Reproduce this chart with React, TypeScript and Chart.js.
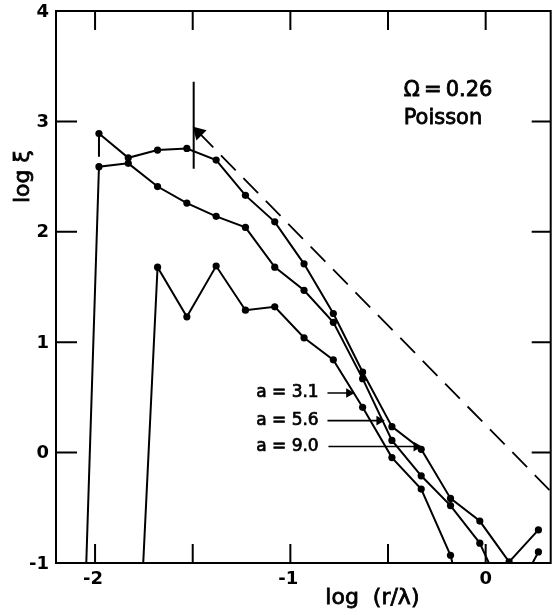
import { useEffect, useRef } from 'react';
import { Chart, registerables } from 'chart.js';

Chart.register(...registerables);

// log (r/lambda) sample positions
const xLog = [-2.13, -1.98, -1.83, -1.68, -1.53, -1.38, -1.23, -1.08, -0.93, -0.78, -0.63, -0.48, -0.33, -0.18, -0.03, 0.12, 0.27];
// log xi for each a
const xiA90 = [null, 2.89, 2.67, 2.74, 2.755, 2.65, 2.33, 2.09, 1.71, 1.26, 0.73, 0.235, 0.03, -0.415, -0.62, -0.99, -0.70];
const xiA56 = [-5.7, 2.59, 2.62, 2.41, 2.26, 2.14, 2.04, 1.68, 1.47, 1.18, 0.67, 0.11, -0.21, -0.48, -0.82, -1.4, -0.90];
const xiA31 = [null, null, -3.8, 1.68, 1.23, 1.69, 1.29, 1.32, 1.04, 0.84, 0.41, -0.045, -0.33, -0.93, -2.0, null, null];

const xTicks = [-2, -1.5, -1, -0.5, 0];
const yTicks = [-1, 0, 1, 2, 3, 4];

// slope -1.8 reference line (dashed, arrow at upper end)
const refLineX = [-1.47, 0.333];
const refLineY = [2.9, -0.35];
// vertical marker at log r = -1.5
const markX = [-1.495, -1.495];
const markY = [2.57, 3.36];
// short vertical stub under first point
const stubX = [-1.98, -1.98];
const stubY = [2.89, 2.68];

const arrowLabels = ['a = 3.1', 'a = 5.6', 'a = 9.0'];
const arrowStartX = [-0.81, -0.81, -0.805];
const arrowEndX = [-0.70, -0.545, -0.355];
const arrowY = [0.54, 0.29, 0.055];

const toPts = (xs: number[], ys: (number | null)[]) =>
  xs.map((x, i) => ({ x, y: ys[i] })).filter((p) => p.y !== null) as { x: number; y: number }[];

const seriesStyle = {
  borderColor: '#000',
  backgroundColor: '#000',
  borderWidth: 2,
  pointRadius: 3.6,
  pointBackgroundColor: '#000',
  pointBorderColor: '#000',
  pointBorderWidth: 0,
  tension: 0,
};

const TICK_FONT = 'bold 18px "DejaVu Sans"';

// heavier text: fill plus a thin stroke
const heavyText = (ctx: any, t: string, x: number, y: number, w = 0.8) => {
  ctx.fillText(t, x, y);
  ctx.lineWidth = w;
  ctx.strokeText(t, x, y);
};

const framePlugin = {
  id: 'framePlugin',
  afterDraw(chart: any) {
    const { ctx, chartArea: ca, scales } = chart;
    const sx = scales.x;
    const sy = scales.y;
    ctx.save();
    ctx.strokeStyle = '#000';
    ctx.fillStyle = '#000';
    ctx.lineWidth = 2;
    ctx.strokeRect(ca.left, ca.top, ca.right - ca.left, ca.bottom - ca.top);
    const tl = 19;
    ctx.beginPath();
    xTicks.forEach((v) => {
      const px = sx.getPixelForValue(v);
      ctx.moveTo(px, ca.top);
      ctx.lineTo(px, ca.top + tl);
      ctx.moveTo(px, ca.bottom);
      ctx.lineTo(px, ca.bottom - tl);
    });
    yTicks.forEach((v) => {
      const py = sy.getPixelForValue(v);
      ctx.moveTo(ca.left, py);
      ctx.lineTo(ca.left + tl + 2, py);
      ctx.moveTo(ca.right, py);
      ctx.lineTo(ca.right - tl, py);
    });
    ctx.stroke();

    // tick labels, placed from the library scales' own ticks
    ctx.font = TICK_FONT;
    ctx.textBaseline = 'middle';
    ctx.textAlign = 'right';
    sy.ticks.forEach((t: any) => {
      ctx.fillText(String(t.value), ca.left - 7, sy.getPixelForValue(t.value) + 1);
    });
    ctx.textAlign = 'center';
    sx.ticks.forEach((t: any) => {
      if (Number.isInteger(t.value)) {
        const off = t.value < 0 ? -2 : 0;
        ctx.fillText(String(t.value), sx.getPixelForValue(t.value) + off, ca.bottom + 16);
      }
    });

    // annotations
    ctx.font = '21px "DejaVu Sans"';
    ctx.textAlign = 'left';
    heavyText(ctx, 'Ω\u2009=\u20090.26', sx.getPixelForValue(-0.42), sy.getPixelForValue(3.28));
    heavyText(ctx, 'Poisson', sx.getPixelForValue(-0.42), sy.getPixelForValue(3.03));

    ctx.font = '17px "DejaVu Sans"';
    ctx.textAlign = 'right';
    arrowLabels.forEach((t, i) => {
      heavyText(ctx, t, sx.getPixelForValue(-0.855), sy.getPixelForValue(arrowY[i]), 0.7);
    });

    // axis titles
    ctx.font = '22px "DejaVu Sans"';
    ctx.textAlign = 'center';
    heavyText(ctx, 'log  (r/λ)', sx.getPixelForValue(-0.58), ca.bottom + 35);
    ctx.save();
    ctx.translate(ca.left - 33, sy.getPixelForValue(2.5));
    ctx.rotate(-Math.PI / 2);
    heavyText(ctx, 'log ξ', 0, 0);
    ctx.restore();
    ctx.restore();
  },
};

export default function App() {
  const ref = useRef<HTMLCanvasElement | null>(null);

  useEffect(() => {
    document.body.style.margin = '0';
    if (!ref.current) return;
    const datasets: any[] = [
      { label: 'a = 9.0', data: toPts(xLog, xiA90), ...seriesStyle },
      { label: 'a = 5.6', data: toPts(xLog, xiA56), ...seriesStyle },
      { label: 'a = 3.1', data: toPts(xLog, xiA31), ...seriesStyle },
      {
        label: 'slope',
        data: toPts(refLineX, refLineY),
        borderColor: '#000',
        borderWidth: 1.8,
        borderDash: [21, 11],
        pointStyle: 'triangle',
        pointRotation: -45,
        pointRadius: [6.5, 0],
        pointBackgroundColor: '#000',
        pointBorderColor: '#000',
      },
      { label: 'mark', data: toPts(markX, markY), borderColor: '#000', borderWidth: 2, pointRadius: 0 },
      { label: 'stub', data: toPts(stubX, stubY), borderColor: '#000', borderWidth: 2, pointRadius: 0 },
      ...arrowLabels.map((l, i) => ({
        label: 'arrow ' + l,
        data: [
          { x: arrowStartX[i], y: arrowY[i] },
          { x: arrowEndX[i], y: arrowY[i] },
        ],
        borderColor: '#000',
        borderWidth: 1.6,
        pointStyle: 'triangle',
        pointRotation: 90,
        pointRadius: [0, 4],
        pointBackgroundColor: '#000',
        pointBorderColor: '#000',
      })),
    ];
    const chart = new Chart(ref.current, {
      type: 'line',
      data: { datasets },
      options: {
        animation: false,
        responsive: false,
        maintainAspectRatio: false,
        layout: { padding: { top: 11, right: 1, left: 0, bottom: 0 } },
        plugins: { legend: { display: false }, tooltip: { enabled: false }, title: { display: false } },
        scales: {
          x: {
            type: 'linear',
            min: -2.2,
            max: 0.333,
            grid: { display: false, drawTicks: false },
            border: { display: false },
            ticks: { display: false },
            afterBuildTicks: (s: any) => {
              s.ticks = xTicks.map((v) => ({ value: v }));
            },
            afterFit: (s: any) => {
              s.height = 52;
            },
          },
          y: {
            type: 'linear',
            min: -1,
            max: 4,
            grid: { display: false, drawTicks: false },
            border: { display: false },
            ticks: { display: false },
            afterBuildTicks: (s: any) => {
              s.ticks = yTicks.map((v) => ({ value: v }));
            },
            afterFit: (s: any) => {
              s.width = 56;
            },
          },
        },
      },
      plugins: [framePlugin],
    });
    return () => chart.destroy();
  }, []);

  return (
    <div style={{ width: 559, height: 615, background: '#fff' }}>
      <canvas ref={ref} width={559} height={615} style={{ display: 'block' }} />
    </div>
  );
}
